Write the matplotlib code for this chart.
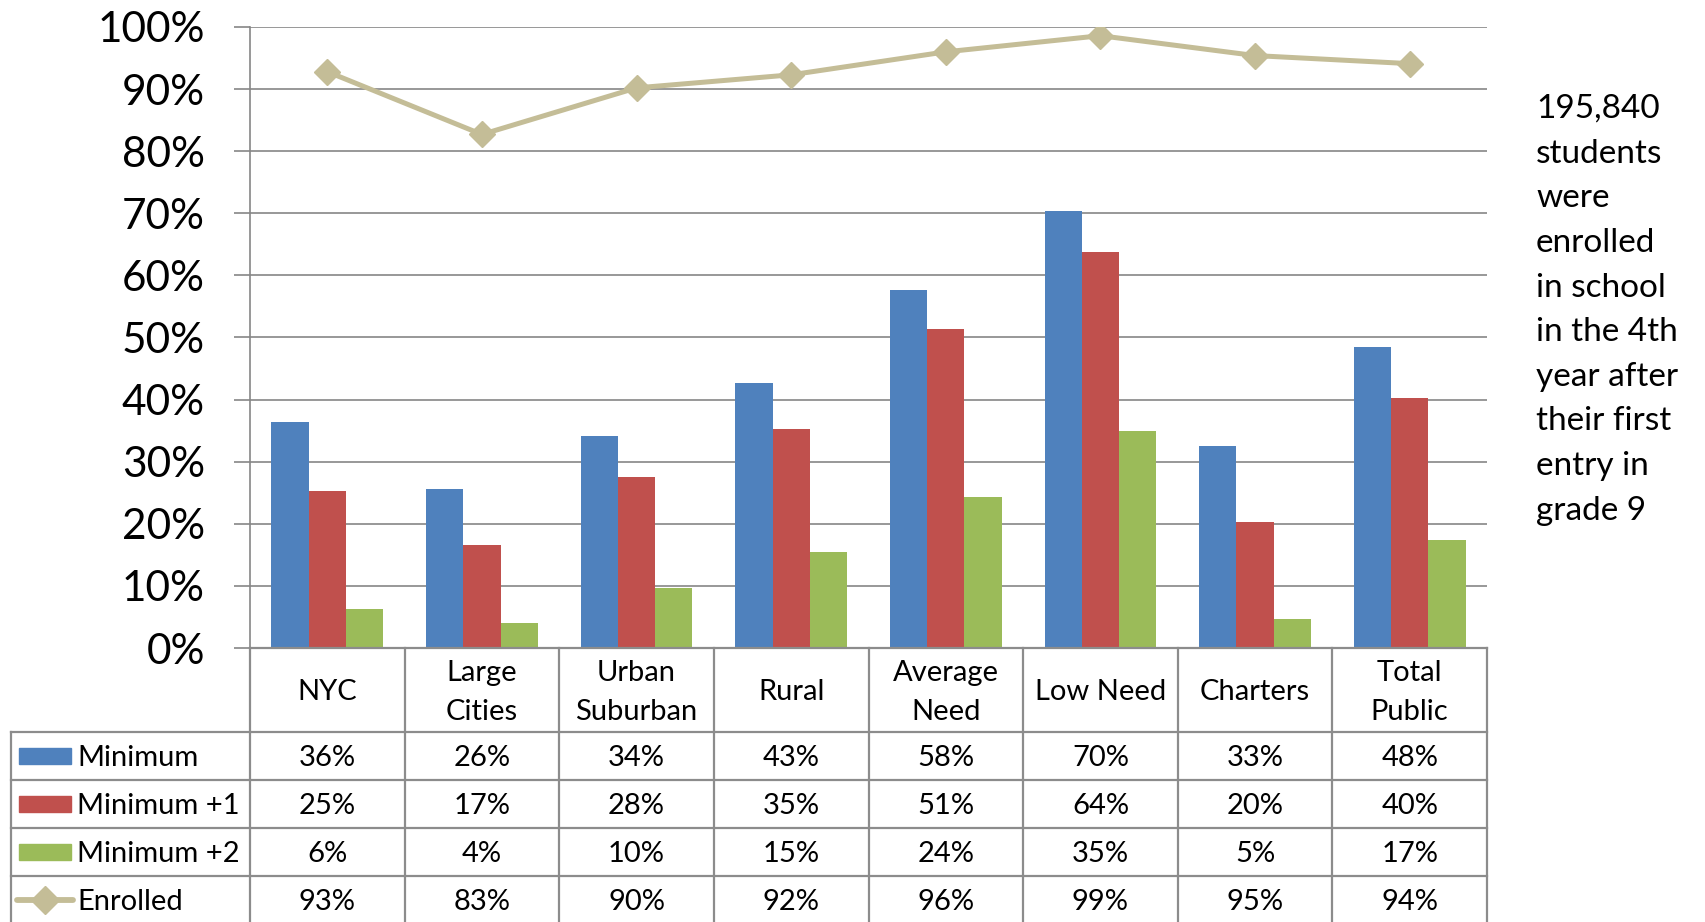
import matplotlib.pyplot as plt

plt.rcParams['font.family'] = ['Lato', 'DejaVu Sans']

categories = ['NYC', 'Large\nCities', 'Urban\nSuburban', 'Rural', 'Average\nNeed',
              'Low Need', 'Charters', 'Total\nPublic']
minimum = [36.4, 25.6, 34.1, 42.7, 57.6, 70.3, 32.6, 48.4]
minimum_1 = [25.3, 16.6, 27.6, 35.3, 51.4, 63.8, 20.3, 40.2]
minimum_2 = [6.3, 4.0, 9.6, 15.4, 24.3, 35.0, 4.7, 17.4]
enrolled = [92.8, 82.7, 90.2, 92.3, 96.0, 98.6, 95.4, 94.1]
series_names = ['Minimum', 'Minimum +1', 'Minimum +2', 'Enrolled']
note = ('195,840\nstudents\nwere\nenrolled\nin school\nin the 4th\n'
        'year after\ntheir first\nentry in\ngrade 9')

BLUE = '#4F81BD'
RED = '#C0504D'
GREEN = '#9BBB59'
TAN = '#C4BD97'
GRID = '#868686'

W, H = 1705, 922


def main():
    fig = plt.figure(figsize=(W / 100, H / 100), dpi=100)
    left, right, top, zero = 250, 1487, 27, 648
    ax = fig.add_axes([left / W, 1 - zero / H, (right - left) / W, (zero - top) / H])

    x = list(range(len(categories)))
    bw = 0.241
    for vals, off, col in [(minimum, -bw, BLUE), (minimum_1, 0, RED), (minimum_2, bw, GREEN)]:
        ax.bar([i + off for i in x], vals, width=bw, color=col, zorder=2)
    ax.plot(x, enrolled, color=TAN, lw=3.6, marker='D', markersize=13, zorder=3)

    ax.set_xlim(-0.5, len(categories) - 0.5)
    ax.set_ylim(0, 100)
    ax.set_yticks(range(0, 101, 10))
    ax.set_yticklabels([f'{v}%' for v in range(0, 101, 10)], fontsize=30.5)
    ax.yaxis.grid(True, color=GRID, lw=1.2, zorder=0)
    ax.tick_params(axis='y', length=11.5, width=1.2, color=GRID, pad=21)
    ax.set_xticks([])
    for s in ['top', 'right', 'bottom']:
        ax.spines[s].set_visible(False)
    ax.spines['left'].set_color(GRID)
    ax.spines['left'].set_linewidth(1.2)

    # data table below the chart
    header_h = 1.75
    nrows = 4
    total = header_h + nrows
    tbottom = 924
    tax = fig.add_axes([left / W, 1 - tbottom / H, (right - left) / W, (tbottom - zero) / H])
    tax.set_xlim(-0.5, len(categories) - 0.5)
    tax.set_ylim(total, 0)
    tax.axis('off')
    lab_left = -0.5 - (left - 11) / ((right - left) / len(categories))
    lc = '#8C8C8C'
    lw = 1.6
    fs = 21
    dy = 0.05

    tax.plot([-0.5, len(categories) - 0.5], [0, 0], color=lc, lw=lw, clip_on=False)
    for k in range(nrows + 1):
        yy = header_h + k
        tax.plot([lab_left, len(categories) - 0.5], [yy, yy], color=lc, lw=lw, clip_on=False)
    for i in range(len(categories) + 1):
        tax.plot([i - 0.5, i - 0.5], [0, total], color=lc, lw=lw, clip_on=False)
    tax.plot([lab_left, lab_left], [header_h, total], color=lc, lw=lw, clip_on=False)

    for i, c in enumerate(categories):
        tax.text(i, header_h / 2 + dy, c, ha='center', va='center', fontsize=fs,
                 linespacing=1.6, clip_on=False)

    rows = [minimum, minimum_1, minimum_2, enrolled]
    for k, vals in enumerate(rows):
        yc = header_h + k + 0.5 + dy
        for i, v in enumerate(vals):
            tax.text(i, yc, f'{v:.0f}%', ha='center', va='center', fontsize=fs)

    # legend keys in the label column
    cw = (right - left) / len(categories)
    kx0 = lab_left + (19 - 11) / cw
    kx1 = lab_left + (71 - 11) / cw
    for k, col in enumerate([BLUE, RED, GREEN]):
        yc = header_h + k + 0.5
        tax.add_patch(plt.Rectangle((kx0, yc - 0.17), kx1 - kx0, 0.34, color=col,
                                    clip_on=False))
    yc = header_h + 3 + 0.5
    tax.plot([lab_left + (17 - 11) / cw, lab_left + (73 - 11) / cw], [yc, yc], color=TAN,
             lw=4.2, solid_capstyle='round', clip_on=False)
    tax.plot([(kx0 + kx1) / 2], [yc], marker='D', color=TAN, markersize=14, clip_on=False)
    for k, name in enumerate(series_names):
        tax.text(lab_left + (77 - 11) / cw, header_h + k + 0.5 + dy, name, ha='left',
                 va='center', fontsize=fs)

    fig.text(1536 / W, 1 - 94 / H, note, ha='left', va='top', fontsize=24,
             linespacing=1.61)

    fig.savefig('out.png', dpi=100)


if __name__ == '__main__':
    main()
